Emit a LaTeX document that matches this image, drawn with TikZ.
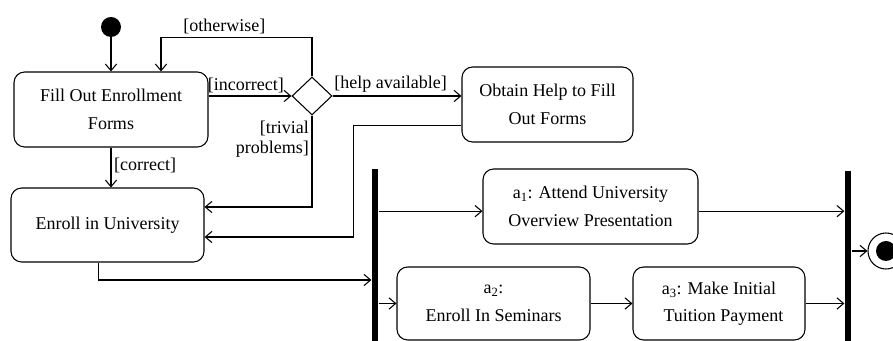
\documentclass[tikz,border=0pt]{standalone}
\usepackage{fontspec}
\setmainfont{Liberation Serif}
\usepackage{tikz}
\usetikzlibrary{arrows.meta,shapes.geometric}

\tikzset{
  act/.style={draw, line width=0.8pt, rounded corners=8pt, align=center,
    inner sep=0pt, font=\fontsize{13.5}{20.5}\selectfont},
  guard/.style={font=\fontsize{13.5}{15}\selectfont, inner sep=2pt},
  bar/.style={fill=black, inner sep=0pt, minimum width=5pt},
  flow/.style={-{Straight Barb[length=5pt,width=8.5pt]}, line width=0.8pt},
}

\begin{document}
\begin{tikzpicture}[x=0.75pt,y=-0.75pt]
		\clip (0,0) rectangle (893,341);
		% start and end
		\node (init) [circle, fill=black, inner sep=0pt, minimum size=15pt] at (111,27) {};
		\node (final) [circle, draw, line width=0.8pt, inner sep=0pt, minimum size=27pt] at (886,251) {};
		\node (finaldot) [circle, fill=black, inner sep=0pt, minimum size=15pt] at (final) {};
		% actions
		\node (fill) [act, minimum width=145.5pt, minimum height=56.25pt] at (111,109.5)
				{Fill Out Enrollment\\Forms};
		\node (help) [act, minimum width=128.25pt, minimum height=56.25pt] at (547.5,104.5)
				{Obtain Help to Fill\\Out Forms};
		\node (enroll) [act, minimum width=144.75pt, minimum height=55.5pt] at (107.5,225)
				{Enroll in University};
		\node (aone) [act, minimum width=161.25pt, minimum height=56.25pt] at (590.5,206.5)
				{a\textsubscript{1}: Attend University\\Overview Presentation};
		\node (atwo) [act, minimum width=144.75pt, minimum height=54.75pt] at (493.5,303.5)
				{a\textsubscript{2}:\\Enroll In Seminars};
		\node (athree) [act, minimum width=129pt, minimum height=54.75pt] at (719,303.5)
				{a\textsubscript{3}: Make Initial\\\ \ Tuition Payment};
		% decision, fork and join
		\node (dia) [diamond, draw, line width=0.8pt, inner sep=0pt, minimum width=30pt,
				minimum height=28.5pt] at (312,96) {};
		\node (fork) [bar, minimum height=166.5pt] at (375,280) {};
		\node (join) [bar, minimum height=141.75pt] at (848,265.5) {};
		\coordinate (aonein) at ([yshift=-3.5pt]aone.west);
		\coordinate (aoneout) at ([yshift=-3.5pt]aone.east);

		\draw[flow] (init) -- (fill.north -| init);
		\draw[flow] (fill.east |- dia.west) -- node[guard, above, pos=0.45] {[incorrect]} (dia.west);
		\draw[flow] (dia.north) -- ++(0,-39) -| node[guard, above, pos=0.29] {[otherwise]}
				([xshift=37.5pt]fill.north);
		\draw[flow] (dia.east) -- node[guard, above, pos=0.45] {[help available]} (help.west |- dia.east);
		\draw[flow] (dia.south) |- node[guard, left, align=right, pos=0.13, font=\fontsize{13.5}{14.5}\selectfont]
				{[trivial\\problems]} ([yshift=13.5pt]enroll.east);
		\draw[flow] ([yshift=-16pt]help.west) -- ++(-108,0) |- ([yshift=-9pt]enroll.east);
		\draw[flow] (fill.south) -- node[guard, right, pos=0.45] {[correct]} (fill.south |- enroll.north);
		\draw[flow] ([xshift=-7pt]enroll.south) |- (fork.west);
		\draw[flow] (fork.east |- aonein) -- (aonein);
		\draw[flow] (fork.east |- atwo.west) -- (atwo.west);
		\draw[flow] (atwo.east) -- (athree.west);
		\draw[flow] (aoneout) -- (join.west |- aoneout);
		\draw[flow] (athree.east) -- (join.west |- athree.east);
		\draw[flow] (join.east |- final) -- (final.west);
	\end{tikzpicture}
\end{document}
